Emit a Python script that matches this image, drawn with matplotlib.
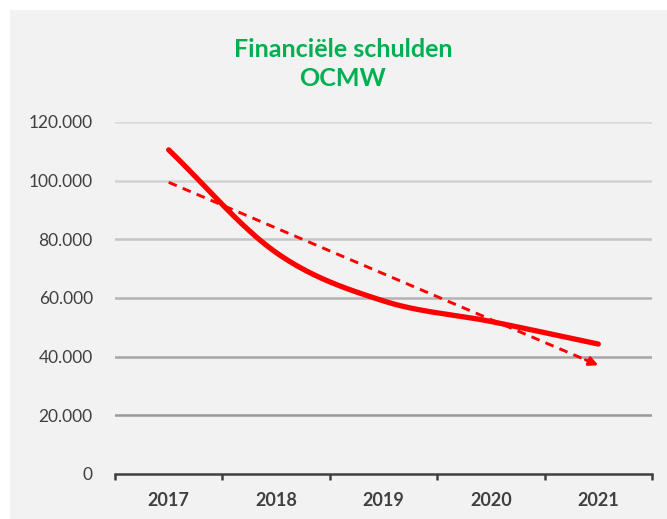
import numpy as np
import matplotlib.pyplot as plt
from matplotlib.patches import Rectangle
from matplotlib.ticker import FuncFormatter

plt.rcParams['font.family'] = ['Lato', 'DejaVu Sans']

# Financial debts of the OCMW per year
years = ['2017', '2018', '2019', '2020', '2021']
debts = [110500, 75500, 59000, 52000, 44300]

y_ticks = [0, 20000, 40000, 60000, 80000, 100000, 120000]
grid_colors = ['#8c8c8c', '#999999', '#a6a6a6', '#b3b3b3', '#c6c6c6', '#d2d2d2', '#d9d9d9']


def smooth(xs, ys, n=40):
    """Catmull-Rom style smoothing through the points (like a spreadsheet's smoothed line)."""
    xs = np.asarray(xs, float)
    ys = np.asarray(ys, float)
    px = np.concatenate([[2 * xs[0] - xs[1]], xs, [2 * xs[-1] - xs[-2]]])
    py = np.concatenate([[2 * ys[0] - ys[1]], ys, [2 * ys[-1] - ys[-2]]])
    out_x, out_y = [], []
    for i in range(1, len(px) - 2):
        t = np.linspace(0, 1, n, endpoint=(i == len(px) - 3))
        for arr, out in ((px, out_x), (py, out_y)):
            p0, p1, p2, p3 = arr[i - 1], arr[i], arr[i + 1], arr[i + 2]
            out.extend(0.5 * ((2 * p1) + (-p0 + p2) * t
                              + (2 * p0 - 5 * p1 + 4 * p2 - p3) * t ** 2
                              + (-p0 + 3 * p1 - 3 * p2 + p3) * t ** 3))
    return np.array(out_x), np.array(out_y)


fig = plt.figure(figsize=(6.67, 5.19), dpi=100)
fig.patch.set_facecolor('white')
fig.patches.append(Rectangle((10 / 667, 0), 1, 1 - 10 / 519, transform=fig.transFigure,
                             facecolor='#f2f2f2', edgecolor='none', zorder=-5))

ax = fig.add_axes([115 / 667, 45 / 519, 537 / 667, 352 / 519])
ax.patch.set_alpha(0)

x = np.arange(len(years))

# gridlines, getting darker towards the bottom
for val, col in zip(y_ticks[1:], grid_colors[1:]):
    ax.axhline(val, color=col, lw=1.8, zorder=1)

# smoothed debt curve
sx, sy = smooth(x, debts)
ax.plot(sx, sy, color='#ff0000', lw=3.8, solid_capstyle='round', zorder=3)

# linear trend with arrow head
coef = np.polyfit(x, debts, 1)
trend = np.polyval(coef, x)
ax.plot([x[0], x[-1] - 0.06], [trend[0], trend[-1] - coef[0] * 0.06], color='#ff0000', lw=2.1,
        dashes=(3, 2.2), zorder=4)
ax.annotate('', xy=(x[-1], trend[-1]), xytext=(x[-1] - 0.12, trend[-1] - coef[0] * 0.12),
            arrowprops=dict(arrowstyle='-|>', color='#ff0000', lw=2.1, mutation_scale=13,
                            shrinkA=0, shrinkB=0), zorder=4)

ax.set_xlim(-0.5, len(years) - 0.5)
ax.set_ylim(0, 120000)

ax.set_yticks(y_ticks)
ax.yaxis.set_major_formatter(FuncFormatter(lambda v, p: f'{int(v):,}'.replace(',', '.')))
ax.tick_params(axis='y', length=0, pad=16, labelsize=12.5, labelcolor='#404040')

ax.set_xticks(np.arange(-0.5, len(years)), labels=[''] * (len(years) + 1))
ax.set_xticks(x, labels=years, minor=True)
ax.tick_params(axis='x', which='major', length=4.5, width=1.8, color='#404040', direction='out')
ax.tick_params(axis='x', which='minor', length=0, pad=13, labelsize=13, labelcolor='#404040')
for lbl in ax.get_xticklabels(minor=True):
    lbl.set_fontweight('bold')

for side in ['top', 'right', 'left']:
    ax.spines[side].set_visible(False)
ax.spines['bottom'].set_color('#404040')
ax.spines['bottom'].set_linewidth(1.8)
ax.spines['bottom'].set_zorder(5)

fig.text(343 / 667, 1 - 64 / 519, 'Financiële schulden\nOCMW', ha='center', va='center',
         fontsize=18, fontweight='bold', color='#00b050', linespacing=1.3)

fig.savefig('out.png', dpi=100, facecolor=fig.get_facecolor())
